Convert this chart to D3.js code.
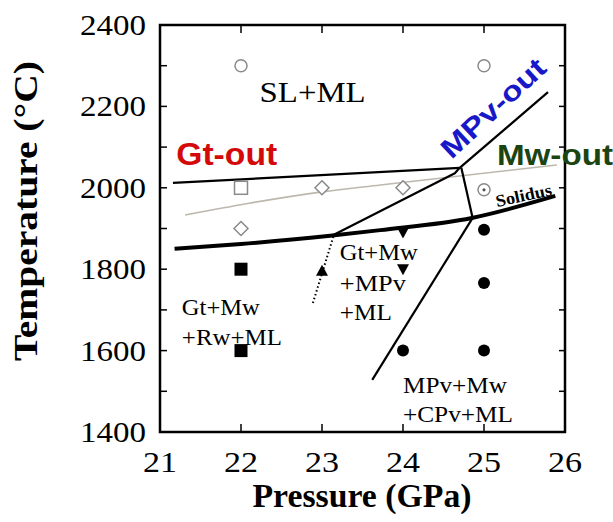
<!DOCTYPE html>
<meta charset="utf-8">
<html>
<head>
<style>
  body { margin: 0; background: #fff; }
  text { font-family: "Liberation Serif", "Times New Roman", serif; }
  text.sans { font-family: "Liberation Sans", Arial, sans-serif; font-weight: bold; }
</style>
</head>
<body>
<script src="https://cdn.jsdelivr.net/npm/d3@7"></script>
<script>
  // ---- data (pressure GPa, temperature C) ----
  var xTicks = [21, 22, 23, 24, 25, 26];
  var yTicks = [1400, 1600, 1800, 2000, 2200, 2400];

  var openCircles   = [[22, 2300], [25, 2300]];
  var openSquares   = [[22, 2000]];
  var openDiamonds  = [[22, 1900], [23, 2000], [24, 2000]];
  var dotCircles    = [[25, 1995]];
  var filledSquares = [[22, 1800], [22, 1600]];
  var filledCircles = [[25, 1897], [25, 1766], [24, 1600], [25, 1600]];
  var triUp         = [[23, 1796]];
  var triDown       = [[24, 1800], [24, 1890]];

  var solidus  = [[21.18, 1850], [22.0, 1862], [23.1, 1882], [23.72, 1896], [24.85, 1926], [25.88, 1980]];
  var mwOut    = [[21.31, 1933], [22.1, 1962], [23.0, 1990], [23.72, 2007], [25.9, 2056]];
  var gtOut    = [[21.16, 2012], [24.70, 2049]];
  var lineA    = [[23.14, 1884], [24.64, 2036], [24.70, 2049]];
  var mpvOut   = [[24.70, 2049], [25.79, 2235]];
  var vertLine = [[24.72, 2049], [24.86, 1926]];
  var mpvIn    = [[24.86, 1926], [23.62, 1528]];
  var dotted   = [[23.14, 1880], [22.88, 1712]];

  var W = 613, H = 522;
  var m = {left: 160, top: 25, right: 48, bottom: 90};

  var svg = d3.select("body").append("svg")
    .attr("width", W).attr("height", H);

  var x = d3.scaleLinear().domain([21, 26]).range([m.left, W - m.right]);
  var y = d3.scaleLinear().domain([1400, 2400]).range([H - m.bottom, m.top]);

  var line = d3.line().x(function(d) { return x(d[0]); }).y(function(d) { return y(d[1]); });
  var curve = d3.line().curve(d3.curveMonotoneX)
    .x(function(d) { return x(d[0]); }).y(function(d) { return y(d[1]); });

  // ---- phase boundaries ----
  svg.append("path").attr("d", curve(mwOut))
    .attr("fill", "none").attr("stroke", "#bdb8ad").attr("stroke-width", 1.6);
  svg.append("path").attr("d", line(gtOut))
    .attr("fill", "none").attr("stroke", "#000").attr("stroke-width", 2.2);
  [lineA, mpvOut, vertLine, mpvIn].forEach(function(l) {
    svg.append("path").attr("d", line(l))
      .attr("fill", "none").attr("stroke", "#000").attr("stroke-width", 2.2)
      .attr("stroke-linejoin", "round");
  });
  svg.append("path").attr("d", curve(solidus))
    .attr("fill", "none").attr("stroke", "#000").attr("stroke-width", 4);
  svg.append("path").attr("d", line(dotted))
    .attr("fill", "none").attr("stroke", "#000").attr("stroke-width", 2)
    .attr("stroke-dasharray", "1.5,2.5");

  // ---- symbols ----
  var g = svg.append("g");
  g.selectAll(".oc").data(openCircles).enter().append("circle")
    .attr("cx", function(d) { return x(d[0]); }).attr("cy", function(d) { return y(d[1]); })
    .attr("r", 6).attr("fill", "#fff").attr("stroke", "#8a8a8a").attr("stroke-width", 1.5);
  g.selectAll(".os").data(openSquares).enter().append("rect")
    .attr("x", function(d) { return x(d[0]) - 6.5; }).attr("y", function(d) { return y(d[1]) - 6.5; })
    .attr("width", 13).attr("height", 13)
    .attr("fill", "#fff").attr("stroke", "#8a8a8a").attr("stroke-width", 1.5);
  g.selectAll(".od").data(openDiamonds).enter().append("path")
    .attr("d", function(d) {
      var cx = x(d[0]), cy = y(d[1]), r = 7;
      return "M" + cx + "," + (cy - r) + "L" + (cx + r) + "," + cy + "L" + cx + "," + (cy + r) + "L" + (cx - r) + "," + cy + "Z";
    })
    .attr("fill", "#fff").attr("stroke", "#8a8a8a").attr("stroke-width", 1.5);
  dotCircles.forEach(function(d) {
    g.append("circle").attr("cx", x(d[0])).attr("cy", y(d[1])).attr("r", 6)
      .attr("fill", "#fff").attr("stroke", "#8a8a8a").attr("stroke-width", 1.5);
    g.append("circle").attr("cx", x(d[0])).attr("cy", y(d[1])).attr("r", 1.6).attr("fill", "#555");
  });
  g.selectAll(".fs").data(filledSquares).enter().append("rect")
    .attr("x", function(d) { return x(d[0]) - 6.5; }).attr("y", function(d) { return y(d[1]) - 6.5; })
    .attr("width", 13).attr("height", 13).attr("fill", "#000");
  g.selectAll(".fc").data(filledCircles).enter().append("circle")
    .attr("cx", function(d) { return x(d[0]); }).attr("cy", function(d) { return y(d[1]); })
    .attr("r", 6).attr("fill", "#000");
  g.selectAll(".tu").data(triUp).enter().append("path")
    .attr("d", function(d) {
      var cx = x(d[0]), cy = y(d[1]);
      return "M" + cx + "," + (cy - 6) + "L" + (cx + 6) + "," + (cy + 5) + "L" + (cx - 6) + "," + (cy + 5) + "Z";
    }).attr("fill", "#000");
  g.selectAll(".td").data(triDown).enter().append("path")
    .attr("d", function(d) {
      var cx = x(d[0]), cy = y(d[1]);
      return "M" + cx + "," + (cy + 6) + "L" + (cx + 6) + "," + (cy - 5) + "L" + (cx - 6) + "," + (cy - 5) + "Z";
    }).attr("fill", "#000");

  // ---- frame and ticks ----
  svg.append("rect")
    .attr("x", x(21)).attr("y", y(2400))
    .attr("width", x(26) - x(21)).attr("height", y(1400) - y(2400))
    .attr("fill", "none").attr("stroke", "#000").attr("stroke-width", 2.5);

  var minorY = d3.range(1500, 2400, 100);
  minorY.forEach(function(t) {
    svg.append("line").attr("x1", x(21)).attr("x2", x(21) + 7)
      .attr("y1", y(t)).attr("y2", y(t)).attr("stroke", "#000").attr("stroke-width", 1.5);
    svg.append("line").attr("x1", x(26)).attr("x2", x(26) - 6)
      .attr("y1", y(t)).attr("y2", y(t)).attr("stroke", "#000").attr("stroke-width", 1.5);
  });
  xTicks.slice(1, -1).forEach(function(t) {
    svg.append("line").attr("x1", x(t)).attr("x2", x(t))
      .attr("y1", y(1400)).attr("y2", y(1400) - 8).attr("stroke", "#000").attr("stroke-width", 1.5);
    svg.append("line").attr("x1", x(t)).attr("x2", x(t))
      .attr("y1", y(2400)).attr("y2", y(2400) + 8).attr("stroke", "#000").attr("stroke-width", 1.5);
  });

  // tick labels
  svg.selectAll(".yl").data(yTicks).enter().append("text")
    .attr("x", x(21) - 14).attr("y", function(d) { return y(d) + 10; })
    .attr("text-anchor", "end").attr("font-size", 30)
    .attr("textLength", 66).attr("lengthAdjust", "spacingAndGlyphs")
    .text(function(d) { return d; });
  svg.selectAll(".xl").data(xTicks).enter().append("text")
    .attr("x", function(d) { return x(d); }).attr("y", y(1400) + 40)
    .attr("text-anchor", "middle").attr("font-size", 30)
    .attr("textLength", 34).attr("lengthAdjust", "spacingAndGlyphs")
    .text(function(d) { return d; });

  // axis titles
  svg.append("text")
    .attr("x", 362).attr("y", 507).attr("text-anchor", "middle")
    .attr("font-size", 34).attr("font-weight", "bold")
    .attr("textLength", 219).attr("lengthAdjust", "spacingAndGlyphs")
    .text("Pressure (GPa)");
  svg.append("text")
    .attr("transform", "translate(37,211) rotate(-90)").attr("text-anchor", "middle")
    .attr("font-size", 34).attr("font-weight", "bold")
    .attr("textLength", 300).attr("lengthAdjust", "spacingAndGlyphs")
    .text("Temperature (\u00b0C)");

  // ---- labels ----
  function label(px, ty, txt, size, len) {
    var t = svg.append("text").attr("x", x(px)).attr("y", y(ty))
      .attr("font-size", size).text(txt);
    if (len) t.attr("textLength", len).attr("lengthAdjust", "spacingAndGlyphs");
    return t;
  }
  label(22.23, 2211, "SL+ML", 30, 106);
  label(23.22, 1823, "Gt+Mw", 24, 78);
  label(23.22, 1746, "+MPv", 24, 66);
  label(23.22, 1675, "+ML", 24, 52);
  label(21.27, 1687, "Gt+Mw", 24, 78);
  label(21.27, 1614, "+Rw+ML", 24, 100);
  label(24.0, 1496, "MPv+Mw", 24, 104);
  label(24.0, 1425, "+CPv+ML", 24, 110);

  svg.append("text").attr("class", "sans")
    .attr("x", x(21.2)).attr("y", y(2056))
    .attr("font-size", 32).attr("fill", "#d40a0a")
    .attr("textLength", 101).attr("lengthAdjust", "spacingAndGlyphs")
    .text("Gt-out");
  svg.append("text").attr("class", "sans")
    .attr("x", x(25.16)).attr("y", y(2056))
    .attr("font-size", 29).attr("fill", "#1c4412")
    .attr("textLength", 116).attr("lengthAdjust", "spacingAndGlyphs")
    .text("Mw-out");
  svg.append("text").attr("class", "sans")
    .attr("transform", "translate(" + x(24.6) + "," + y(2068) + ") rotate(-43)")
    .attr("font-size", 28).attr("fill", "#1818c8")
    .attr("textLength", 132).attr("lengthAdjust", "spacingAndGlyphs")
    .text("MPv-out");
  svg.append("text")
    .attr("transform", "translate(" + x(25.16) + "," + y(1953) + ") rotate(-12)")
    .attr("font-weight", "bold").attr("font-size", 17)
    .attr("textLength", 57).attr("lengthAdjust", "spacingAndGlyphs")
    .text("Solidus");
</script>
</body>
</html>
